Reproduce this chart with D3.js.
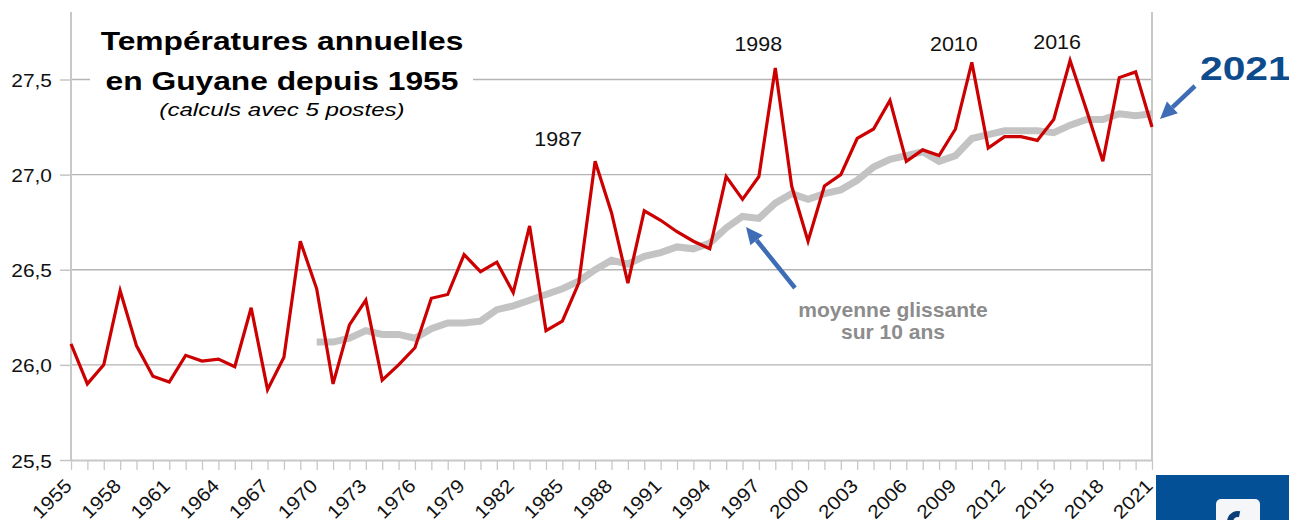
<!DOCTYPE html>
<html>
<head>
<meta charset="utf-8">
<script src="https://cdn.jsdelivr.net/npm/d3@7"></script>
<style>
  body { margin: 0; background: #fff; }
  svg { display: block; font-family: "Liberation Sans", Arial, sans-serif; }
</style>
</head>
<body>
<svg id="chart"></svg>
<script>
const years = [1955, 1956, 1957, 1958, 1959, 1960, 1961, 1962, 1963, 1964,
  1965, 1966, 1967, 1968, 1969, 1970, 1971, 1972, 1973, 1974,
  1975, 1976, 1977, 1978, 1979, 1980, 1981, 1982, 1983, 1984,
  1985, 1986, 1987, 1988, 1989, 1990, 1991, 1992, 1993, 1994,
  1995, 1996, 1997, 1998, 1999, 2000, 2001, 2002, 2003, 2004,
  2005, 2006, 2007, 2008, 2009, 2010, 2011, 2012, 2013, 2014,
  2015, 2016, 2017, 2018, 2019, 2020, 2021];

// temperature moyenne annuelle (°C)
const temps = [26.11, 25.90, 26.00, 26.39, 26.10, 25.94, 25.91, 26.05, 26.02, 26.03,
  25.99, 26.30, 25.87, 26.04, 26.65, 26.40, 25.90, 26.21, 26.34, 25.92,
  26.00, 26.09, 26.35, 26.37, 26.58, 26.49, 26.54, 26.38, 26.73, 26.18,
  26.23, 26.43, 27.07, 26.80, 26.43, 26.81, 26.76, 26.70, 26.65, 26.61,
  26.99, 26.87, 26.99, 27.56, 26.94, 26.65, 26.94, 27.00, 27.19, 27.24,
  27.39, 27.07, 27.13, 27.10, 27.24, 27.59, 27.14, 27.20, 27.20, 27.18,
  27.29, 27.60, 27.34, 27.07, 27.51, 27.54, 27.25];

// moyenne glissante sur 10 ans, de 1970 a 2021
const avgStart = 1970;
const movingAvg = [26.12, 26.12, 26.14, 26.18, 26.16, 26.16, 26.14, 26.19, 26.22, 26.22,
  26.23, 26.29, 26.31, 26.34, 26.37, 26.40, 26.44, 26.50, 26.55, 26.53,
  26.57, 26.59, 26.62, 26.61, 26.64, 26.72, 26.78, 26.77, 26.85, 26.90,
  26.87, 26.90, 26.92, 26.97, 27.04, 27.08, 27.10, 27.12, 27.07, 27.10,
  27.19, 27.21, 27.23, 27.23, 27.23, 27.22, 27.26, 27.29, 27.29, 27.32,
  27.31, 27.32];

const yTicks = [25.5, 26.0, 26.5, 27.0, 27.5];
const xTickLabels = [1955, 1958, 1961, 1964, 1967, 1970, 1973, 1976, 1979, 1982,
  1985, 1988, 1991, 1994, 1997, 2000, 2003, 2006, 2009, 2012, 2015, 2018, 2021];
const peakYears = [1987, 1998, 2010, 2016];

const width = 1289, height = 520;
const plot = { left: 71, right: 1152, top: 12, bottom: 460 };
const sx = 1.1; // glyphs in the picture are a bit wider than Arial

const fmt = v => d3.format(".1f")(v).replace(".", ",");

const svg = d3.select("#chart")
  .attr("width", width)
  .attr("height", height);

const x = d3.scaleLinear().domain([1955, 2021]).range([plot.left, plot.right]);
const y = d3.scaleLinear().domain([25.5, 27.5]).range([plot.bottom, 79.5]);

// grid
svg.append("g")
  .selectAll("line")
  .data(yTicks.slice(1))
  .join("line")
    .attr("x1", plot.left).attr("x2", plot.right)
    .attr("y1", d => y(d)).attr("y2", d => y(d))
    .attr("stroke", "#b4b4b4")
    .attr("stroke-width", 1.3);

// y axis
const yAxis = svg.append("g")
  .attr("transform", `translate(${plot.left},0)`)
  .call(d3.axisLeft(y).tickValues(yTicks).tickSize(11).tickSizeOuter(0).tickFormat(fmt));
yAxis.select(".domain").remove();
yAxis.selectAll(".tick line").attr("stroke", "#c4c4c4").attr("stroke-width", 1.5);
yAxis.selectAll(".tick text")
  .attr("x", null).attr("dy", null)
  .attr("font-size", 19)
  .attr("fill", "#111")
  .attr("text-anchor", "end")
  .attr("transform", `translate(-19,7) scale(${sx},1)`);

// frame
svg.append("line")
  .attr("x1", plot.left).attr("x2", plot.left).attr("y1", plot.top).attr("y2", plot.bottom)
  .attr("stroke", "#c8c8c8").attr("stroke-width", 2);
svg.append("line")
  .attr("x1", plot.right).attr("x2", plot.right).attr("y1", plot.top).attr("y2", plot.bottom)
  .attr("stroke", "#c8c8c8").attr("stroke-width", 2);

// x axis
const xAxis = svg.append("g")
  .attr("transform", `translate(0,${plot.bottom})`)
  .call(d3.axisBottom(x).tickValues(years).tickSize(10).tickSizeOuter(0).tickFormat(""));
xAxis.select(".domain").attr("stroke", "#c8c8c8").attr("stroke-width", 2);
xAxis.selectAll(".tick line").attr("stroke", "#c8c8c8").attr("stroke-width", 1.3);

svg.append("g")
  .selectAll("text")
  .data(xTickLabels)
  .join("text")
    .attr("transform", d => `translate(${x(d) + 2},487) rotate(-45) scale(${sx},1)`)
    .attr("text-anchor", "end")
    .attr("font-size", 19)
    .attr("fill", "#111")
    .text(d => d);

// series
const avgData = movingAvg.map((v, i) => [avgStart + i, v]);
svg.append("path")
  .datum(avgData)
  .attr("fill", "none")
  .attr("stroke", "#c3c3c3")
  .attr("stroke-width", 7)
  .attr("stroke-linejoin", "miter")
  .attr("d", d3.line().x(d => x(d[0])).y(d => y(d[1])));

svg.append("path")
  .datum(years.map((yr, i) => [yr, temps[i]]))
  .attr("fill", "none")
  .attr("stroke", "#cc0000")
  .attr("stroke-width", 3.2)
  .attr("stroke-linejoin", "miter")
  .attr("d", d3.line().x(d => x(d[0])).y(d => y(d[1])));

// title
svg.append("rect")
  .attr("x", 90).attr("y", 16).attr("width", 383).attr("height", 108)
  .attr("fill", "#fff");

const title = svg.append("g").attr("text-anchor", "middle");
title.append("text")
  .attr("transform", "translate(282,50) scale(1.27,1)")
  .attr("font-size", 25).attr("font-weight", "bold")
  .text("Températures annuelles");
title.append("text")
  .attr("transform", "translate(282,90) scale(1.27,1)")
  .attr("font-size", 25).attr("font-weight", "bold")
  .text("en Guyane depuis 1955");
title.append("text")
  .attr("transform", "translate(282,116) scale(1.27,1)")
  .attr("font-size", 19).attr("font-style", "italic")
  .text("(calculs avec 5 postes)");

// peak labels
const peakOffset = { 1987: [-37, 146], 1998: [-17, 51], 2010: [-18, 51], 2016: [-13, 49] };
svg.append("g")
  .selectAll("text")
  .data(peakYears)
  .join("text")
    .attr("transform", d => `translate(${x(d) + peakOffset[d][0]},${peakOffset[d][1]}) scale(${sx},1)`)
    .attr("text-anchor", "middle")
    .attr("font-size", 19.5)
    .attr("fill", "#111")
    .text(d => d);

// moving-average note
const note = svg.append("g")
  .attr("text-anchor", "middle")
  .attr("font-size", 19.5)
  .attr("font-weight", "bold")
  .attr("fill", "#8c8c8c");
note.append("text").attr("transform", `translate(893,317) scale(1.08,1)`).text("moyenne glissante");
note.append("text").attr("transform", `translate(893,339) scale(1.08,1)`).text("sur 10 ans");

// arrows
const arrowBlue = "#3e6db5";
function arrow(x1, y1, x2, y2) {
  const a = Math.atan2(y2 - y1, x2 - x1);
  const len = 17, half = 8;
  const bx = x2 - len * Math.cos(a), by = y2 - len * Math.sin(a);
  svg.append("line")
    .attr("x1", x1).attr("y1", y1).attr("x2", bx).attr("y2", by)
    .attr("stroke", arrowBlue).attr("stroke-width", 4.5);
  svg.append("path")
    .attr("d", d3.line()([
      [x2, y2],
      [bx + half * Math.sin(a), by - half * Math.cos(a)],
      [bx - half * Math.sin(a), by + half * Math.cos(a)]
    ]) + "Z")
    .attr("fill", arrowBlue);
}
arrow(795, 288, 746, 227);
arrow(1195, 86, 1160, 119);

svg.append("text")
  .attr("transform", "translate(1200,80) scale(1.2,1)")
  .attr("font-size", 34)
  .attr("font-weight", "bold")
  .attr("fill", "#0d4b8c")
  .text("2021");

// logo corner
svg.append("rect")
  .attr("x", 1156).attr("y", 475).attr("width", 133).attr("height", 50)
  .attr("fill", "#035096");
svg.append("rect")
  .attr("x", 1216).attr("y", 499).attr("width", 44).attr("height", 30).attr("rx", 5)
  .attr("fill", "#f4f6f8");
svg.append("path")
  .attr("d", d3.arc().innerRadius(5).outerRadius(11).startAngle(-2.6).endAngle(0.2)())
  .attr("transform", "translate(1238,522)")
  .attr("fill", "#0b3f78");
</script>
</body>
</html>
